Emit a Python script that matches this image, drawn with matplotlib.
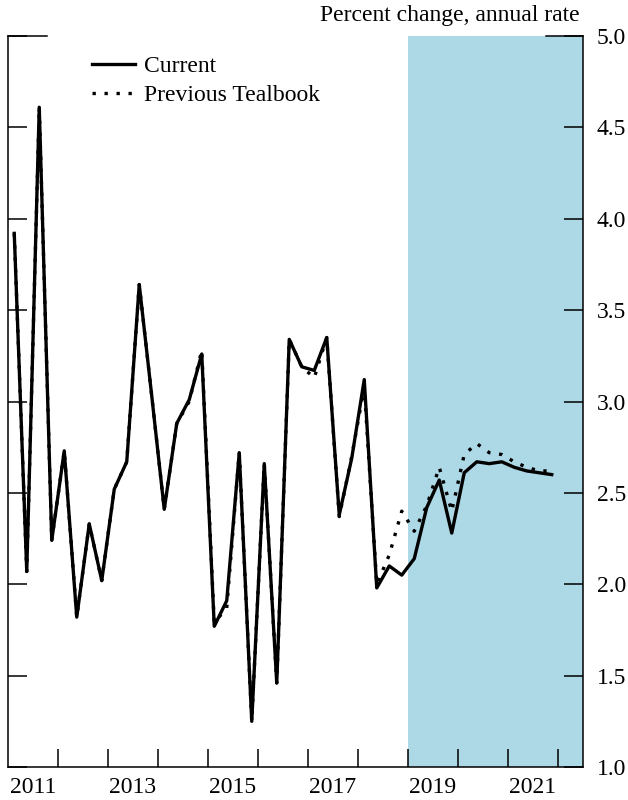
import numpy as np
import matplotlib
matplotlib.use("Agg")
import matplotlib.pyplot as plt

plt.rcParams['font.family'] = ['Liberation Serif', 'DejaVu Serif']

# quarterly data, 2011Q1 - 2021Q4
start_year = 2011
current = [3.92, 2.07, 4.61, 2.24, 2.73, 1.82, 2.33, 2.02, 2.52, 2.67,
           3.64, 3.03, 2.41, 2.88, 3.01, 3.26, 1.77, 1.91, 2.72, 1.25,
           2.66, 1.46, 3.34, 3.19, 3.17, 3.35, 2.38, 2.69, 3.12, 1.98,
           2.10, 2.05, 2.14, 2.42, 2.57, 2.28, 2.61, 2.67, 2.66, 2.67,
           2.64, 2.62, 2.61, 2.60]
previous = [3.92, 2.07, 4.61, 2.24, 2.73, 1.82, 2.33, 2.02, 2.52, 2.67,
            3.64, 3.03, 2.41, 2.88, 3.00, 3.28, 1.79, 1.87, 2.72, 1.25,
            2.66, 1.46, 3.34, 3.19, 3.13, 3.35, 2.37, 2.70, 3.08, 2.00,
            2.16, 2.40, 2.29, 2.43, 2.64, 2.40, 2.71, 2.77, 2.72, 2.71,
            2.67, 2.64, 2.62, 2.62]
forecast_start = 2019.0
year_ticks = list(range(2012, 2023))
year_labels = ['2011', '2013', '2015', '2017', '2019', '2021']
y_ticks = [1.0, 1.5, 2.0, 2.5, 3.0, 3.5, 4.0, 4.5, 5.0]

x = start_year + (np.arange(len(current)) + 0.5) / 4.0

fig = plt.figure(figsize=(6.28, 8.0), dpi=100)
ax = fig.add_axes([8/628, 1 - 767/800, 575/628, 731/800])

ax.axvspan(forecast_start, 2022.5, color='#add8e6', zorder=0, lw=0)

ax.plot(x, previous, color='black', lw=2.4, linestyle=(0, (1, 2.6)),
        label='Previous Tealbook', zorder=2)
ax.plot(x, current, color='black', lw=2.4, label='Current', zorder=3)

ax.set_xlim(2011, 2022.5)
ax.set_ylim(1.0, 5.0)

ax.spines['top'].set_visible(False)
for s in ['left', 'right', 'bottom']:
    ax.spines[s].set_linewidth(1.1)

ax.set_xticks(year_ticks)
ax.set_xticklabels([])
ax.set_xticks([int(y) + 0.5 for y in year_labels], minor=True)
ax.set_xticklabels(year_labels, minor=True)
ax.tick_params(axis='x', which='major', direction='in', length=13, width=1.1)
ax.tick_params(axis='x', which='minor', length=0, pad=7, labelsize=17)

ax.set_yticks(y_ticks)
ax.set_yticklabels(['%.1f' % v for v in y_ticks])
ax.tick_params(axis='y', direction='in', length=13.5, width=1.1,
               left=True, right=True, labelleft=False, labelright=True,
               pad=10, labelsize=17)

# longer ticks at the top of the frame
trans = ax.get_yaxis_transform()
ax.plot([0, 0.068], [5.0, 5.0], color='black', lw=1.1, transform=trans, clip_on=False)
ax.plot([0.935, 1.0], [5.0, 5.0], color='black', lw=1.1, transform=trans, clip_on=False)

handles, labels = ax.get_legend_handles_labels()
ax.legend(handles[::-1], labels[::-1], loc='upper left', bbox_to_anchor=(0.13, 0.986),
          frameon=False, fontsize=17, handlelength=1.8, handletextpad=0.4,
          labelspacing=0.32, borderaxespad=0)

fig.text(580/628, 1 - 16/800, 'Percent change, annual rate', ha='right', va='center',
         fontsize=17)

fig.savefig('out.png', dpi=100)
